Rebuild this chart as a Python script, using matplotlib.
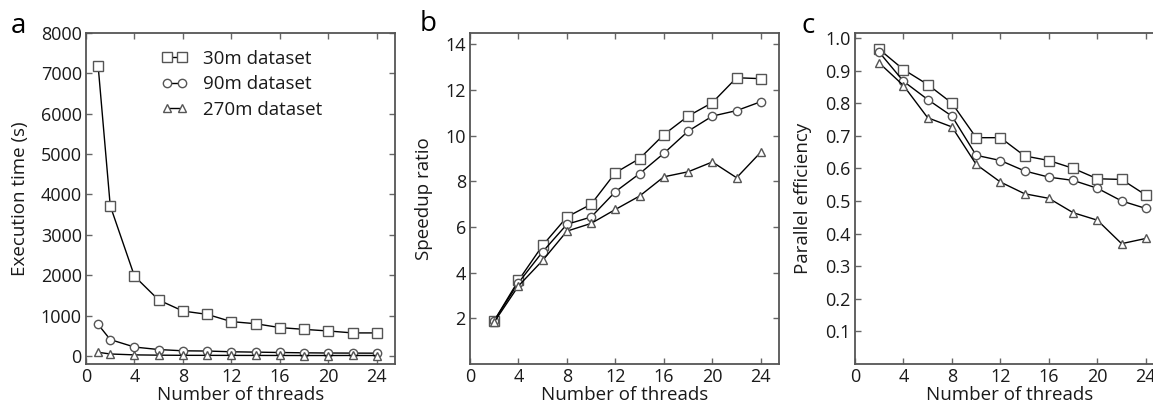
import numpy as np
import matplotlib
matplotlib.use('Agg')
import matplotlib.pyplot as plt

plt.rcParams['font.family'] = ['Open Sans', 'DejaVu Sans']

# Threads used
threads_a = [1, 2, 4, 6, 8, 10, 12, 14, 16, 18, 20, 22, 24]
threads_bc = [2, 4, 6, 8, 10, 12, 14, 16, 18, 20, 22, 24]

labels = ['30m dataset', '90m dataset', '270m dataset']

# (a) execution time in seconds
time_30m = [7190, 3720, 1975, 1385, 1112, 1030, 850, 798, 702, 658, 618, 570, 570]
time_90m = [780, 405, 220, 158, 127, 121, 103, 94, 85, 77, 72, 70, 68]
time_270m = [90, 48, 26, 19, 15, 14, 13, 12, 11, 10, 10, 11, 10]

# (b) speedup ratio
speed_30m = [1.90, 3.66, 5.20, 6.44, 7.00, 8.38, 9.00, 10.05, 10.86, 11.45, 12.54, 12.50]
speed_90m = [1.90, 3.56, 4.92, 6.12, 6.44, 7.55, 8.34, 9.23, 10.20, 10.86, 11.10, 11.49]
speed_270m = [1.84, 3.42, 4.54, 5.82, 6.16, 6.77, 7.36, 8.20, 8.42, 8.85, 8.16, 9.28]

# (c) parallel efficiency
eff_30m = [0.965, 0.903, 0.857, 0.800, 0.694, 0.694, 0.638, 0.624, 0.600, 0.568, 0.566, 0.518]
eff_90m = [0.956, 0.867, 0.811, 0.760, 0.640, 0.624, 0.592, 0.573, 0.563, 0.539, 0.500, 0.477]
eff_270m = [0.923, 0.854, 0.755, 0.727, 0.612, 0.558, 0.522, 0.508, 0.464, 0.441, 0.369, 0.385]

markers = ['s', 'o', '^']
msizes = [6.5, 6, 6]
edge_col = '#555555'
txt_col = '#1a1a1a'

fig = plt.figure(figsize=(11.53, 4.05), dpi=100)
W, H = 1153., 405.
bottom = (H - 364) / H
height = 331 / H
width = 309 / W
axa = fig.add_axes([86 / W, bottom, width, height])
axb = fig.add_axes([470 / W, bottom, width, height])
axc = fig.add_axes([855 / W, bottom, width, height])


def draw(ax, x, series):
    for y, m, ms, lab in zip(series, markers, msizes, labels):
        ax.plot(x, y, color='black', lw=1.0, marker=m, ms=ms,
                mfc='white', mec=edge_col, mew=1.0, label=lab)


def style(ax):
    ax.set_xlim(0, 25.5)
    ax.set_xticks([0, 4, 8, 12, 16, 20, 24])
    ax.tick_params(direction='in', top=True, right=True, length=4,
                   width=1, color='#666666', labelsize=13, labelcolor=txt_col, pad=3)
    for s in ax.spines.values():
        s.set_color('#555555')
        s.set_linewidth(1.3)
    ax.set_xlabel('Number of threads', fontsize=13.5, color=txt_col, labelpad=0)


draw(axa, threads_a, [time_30m, time_90m, time_270m])
style(axa)
axa.set_ylim(-200, 8000)
axa.set_yticks(np.arange(0, 8001, 1000))
axa.set_ylabel('Execution time (s)', fontsize=13.5, color=txt_col)
axa.yaxis.set_label_coords(-0.185, 0.5)
axa.legend(loc='upper left', bbox_to_anchor=(0.19, 1.0), frameon=False,
           numpoints=2, handlelength=1.4, handletextpad=0.8, labelspacing=0.4,
           fontsize=13.5, labelcolor=txt_col)

draw(axb, threads_bc, [speed_30m, speed_90m, speed_270m])
style(axb)
axb.set_ylim(0, 14.5)
axb.set_yticks(np.arange(2, 15, 2))
axb.set_ylabel('Speedup ratio', fontsize=13.5, color=txt_col)
axb.yaxis.set_label_coords(-0.12, 0.5)

draw(axc, threads_bc, [eff_30m, eff_90m, eff_270m])
style(axc)
axc.set_ylim(0, 1.015)
axc.set_yticks(np.arange(0.1, 1.01, 0.1))
axc.set_yticklabels(['%.1f' % v for v in np.arange(0.1, 1.01, 0.1)])
axc.set_ylabel('Parallel efficiency', fontsize=13.5, color=txt_col)
axc.yaxis.set_label_coords(-0.14, 0.5)

fig.text(18 / W, 1 - 26 / H, 'a', fontsize=20, ha='center', va='center', color='black')
fig.text(428 / W, 1 - 24 / H, 'b', fontsize=20, ha='center', va='center', color='black')
fig.text(808 / W, 1 - 26 / H, 'c', fontsize=20, ha='center', va='center', color='black')

fig.savefig('out.png', dpi=100)
